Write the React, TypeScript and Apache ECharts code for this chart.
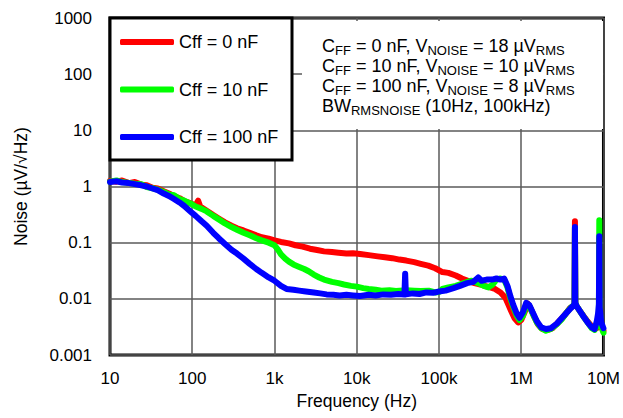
import React, { useEffect, useRef } from "react";
import * as echarts from "echarts";

const xTickLabels = ["10", "100", "1k", "10k", "100k", "1M", "10M"];
const yTickLabels = ["0.001", "0.01", "0.1", "1", "10", "100", "1000"];
const seriesNames = ["Cff = 0 nF", "Cff = 10 nF", "Cff = 100 nF"];
const seriesColors = ["#ff0000", "#00ff00", "#0000ff"];

const redFreq = [10, 12, 14, 17, 20, 24, 28, 33, 38, 45, 52, 60, 70, 80, 95, 110, 118, 125, 150, 180, 210, 250, 300, 350, 420, 500, 600, 700, 850, 1000, 1200, 1500, 1800, 2200, 2700, 3300, 4000, 5000, 6000, 7500, 9000, 11000, 14000, 18000, 22000, 27000, 33000, 40000, 50000, 60000, 74000, 90000, 110000, 130000, 160000, 190000, 225000, 270000, 320000, 360000, 420000, 480000, 560000, 640000, 700000, 750000, 830000, 920000, 1000000, 1100000, 1200000, 1300000, 1450000, 1600000, 1800000, 2100000, 2400000, 2700000, 3000000, 3400000, 3900000, 4300000, 4450000, 4500000, 4550000, 4700000, 5200000, 5800000, 6300000, 7000000, 7700000, 8300000, 8700000, 8850000, 8900000, 8950000, 9400000, 9700000, 10000000];
const redVal = [1.25, 1.22, 1.28, 1.15, 1.2, 1.08, 1.05, 0.95, 0.92, 0.82, 0.75, 0.68, 0.62, 0.55, 0.5, 0.46, 0.56, 0.44, 0.37, 0.31, 0.27, 0.23, 0.2, 0.18, 0.165, 0.15, 0.135, 0.125, 0.118, 0.11, 0.103, 0.097, 0.09, 0.085, 0.078, 0.074, 0.07, 0.068, 0.066, 0.064, 0.065, 0.063, 0.06, 0.057, 0.055, 0.053, 0.05, 0.048, 0.045, 0.042, 0.039, 0.035, 0.03, 0.029, 0.026, 0.023, 0.021, 0.019, 0.018, 0.017, 0.016, 0.015, 0.013, 0.0105, 0.0078, 0.0062, 0.0045, 0.0038, 0.0042, 0.0058, 0.0082, 0.0068, 0.0047, 0.0035, 0.0029, 0.0028, 0.003, 0.0036, 0.0042, 0.0052, 0.0068, 0.0075, 0.008, 0.24, 0.008, 0.0075, 0.006, 0.0048, 0.0041, 0.0034, 0.0029, 0.003, 0.004, 0.006, 0.12, 0.006, 0.0032, 0.003, 0.0027];

const greenFreq = [10, 12, 14, 17, 20, 24, 28, 33, 38, 45, 52, 60, 70, 80, 95, 110, 130, 150, 180, 210, 250, 300, 350, 420, 500, 600, 700, 850, 1000, 1100, 1200, 1350, 1500, 1700, 2000, 2300, 2600, 3000, 3500, 4000, 5000, 6000, 7000, 8500, 10000, 12000, 14000, 17000, 20000, 25000, 30000, 40000, 50000, 60000, 75000, 90000, 100000, 110000, 130000, 160000, 200000, 250000, 300000, 350000, 400000, 450000, 500000, 560000, 620000, 680000, 740000, 800000, 880000, 950000, 1050000, 1150000, 1250000, 1400000, 1550000, 1750000, 2000000, 2300000, 2700000, 3100000, 3500000, 4000000, 4400000, 4450000, 4500000, 4550000, 4700000, 5200000, 5800000, 6500000, 7200000, 7800000, 8400000, 8800000, 8900000, 9000000, 9500000, 10000000];
const greenVal = [1.22, 1.28, 1.2, 1.16, 1.12, 1.1, 0.98, 0.93, 0.88, 0.8, 0.72, 0.7, 0.6, 0.56, 0.5, 0.44, 0.4, 0.36, 0.3, 0.26, 0.22, 0.19, 0.17, 0.15, 0.135, 0.12, 0.11, 0.1, 0.09, 0.075, 0.062, 0.052, 0.046, 0.041, 0.037, 0.034, 0.031, 0.027, 0.024, 0.022, 0.02, 0.019, 0.018, 0.017, 0.0165, 0.0155, 0.015, 0.0145, 0.014, 0.0142, 0.0138, 0.0142, 0.014, 0.0138, 0.014, 0.013, 0.0132, 0.015, 0.016, 0.017, 0.019, 0.021, 0.019, 0.017, 0.016, 0.018, 0.022, 0.023, 0.022, 0.016, 0.01, 0.0072, 0.005, 0.0042, 0.005, 0.0078, 0.0075, 0.0052, 0.0038, 0.003, 0.0027, 0.0029, 0.0035, 0.0043, 0.0055, 0.007, 0.0078, 0.0085, 0.18, 0.0085, 0.0075, 0.006, 0.0047, 0.0037, 0.003, 0.0028, 0.0035, 0.006, 0.25, 0.006, 0.003, 0.0025];

const blueFreq = [10, 12, 14, 17, 20, 24, 28, 33, 38, 45, 52, 60, 70, 80, 95, 110, 130, 150, 180, 210, 250, 300, 350, 420, 500, 600, 700, 850, 1000, 1200, 1400, 1700, 2000, 2400, 3000, 3600, 4300, 5200, 6200, 7500, 9000, 11000, 14000, 17000, 21000, 26000, 32000, 38000, 38800, 39600, 48000, 58000, 70000, 85000, 100000, 120000, 150000, 180000, 220000, 260000, 300000, 330000, 380000, 440000, 500000, 560000, 620000, 680000, 740000, 800000, 880000, 950000, 1050000, 1150000, 1250000, 1400000, 1550000, 1750000, 2000000, 2300000, 2700000, 3100000, 3500000, 4000000, 4400000, 4450000, 4500000, 4550000, 4700000, 5200000, 5800000, 6500000, 7200000, 7800000, 8300000, 8600000, 8800000, 8900000, 9000000, 9400000, 10000000];
const blueVal = [1.2, 1.24, 1.18, 1.15, 1.1, 1.05, 1.0, 0.92, 0.86, 0.75, 0.68, 0.6, 0.52, 0.45, 0.36, 0.3, 0.24, 0.2, 0.15, 0.12, 0.095, 0.075, 0.064, 0.052, 0.042, 0.034, 0.029, 0.024, 0.021, 0.017, 0.015, 0.0145, 0.014, 0.0135, 0.013, 0.0125, 0.012, 0.0118, 0.0115, 0.0118, 0.0115, 0.0112, 0.0118, 0.0115, 0.012, 0.0118, 0.0122, 0.012, 0.028, 0.012, 0.0125, 0.0122, 0.013, 0.0128, 0.0135, 0.014, 0.0155, 0.017, 0.019, 0.02, 0.024, 0.021, 0.022, 0.022, 0.023, 0.022, 0.023, 0.017, 0.011, 0.0078, 0.0055, 0.0046, 0.0058, 0.0085, 0.0078, 0.0055, 0.004, 0.0031, 0.0029, 0.003, 0.0036, 0.0045, 0.0055, 0.0068, 0.0078, 0.0085, 0.19, 0.0085, 0.0075, 0.006, 0.0047, 0.0037, 0.0031, 0.0029, 0.004, 0.0055, 0.008, 0.13, 0.007, 0.0038, 0.003];

const FONT = "'Liberation Sans', Arial, sans-serif";

function pairs(f: number[], v: number[]) {
  return f.map((x, i) => [x, v[i]]);
}

export default function App() {
  const ref = useRef<HTMLDivElement>(null);
  useEffect(() => {
    document.body.style.margin = "0";
    const chart = echarts.init(ref.current!, null, { renderer: "svg" });
    const freqs = [redFreq, greenFreq, blueFreq];
    const vals = [redVal, greenVal, blueVal];
    const m = (t: string) => `{m|${t}}`;
    const s = (t: string) => `{s|${t}}`;
    const boxText = [
      m("C") + s("FF") + m(" = 0 nF, V") + s("NOISE") + m(" = 18 µV") + s("RMS"),
      m("C") + s("FF") + m(" = 10 nF, V") + s("NOISE") + m(" = 10 µV") + s("RMS"),
      m("C") + s("FF") + m(" = 100 nF, V") + s("NOISE") + m(" = 8 µV") + s("RMS"),
      m("BW") + s("RMSNOISE") + m(" (10Hz, 100kHz)"),
    ].join("\n");
    chart.setOption({
      animation: false,
      backgroundColor: "#fff",
      textStyle: { fontFamily: FONT },
      grid: {
        left: 110,
        top: 18,
        right: 17,
        bottom: 63,
        show: true,
        borderColor: "#000",
        borderWidth: 3,
        backgroundColor: "#fff",
      },
      legend: {
        data: seriesNames,
        orient: "vertical",
        left: 115,
        top: 27,
        itemWidth: 54,
        itemHeight: 6,
        itemGap: 27.5,
        icon: "roundRect",
        selectedMode: false,
        textStyle: { fontFamily: FONT, fontSize: 18, color: "#000", lineHeight: 20 },
        z: 10,
      },
      xAxis: {
        type: "log",
        logBase: 10,
        min: 10,
        max: 1e7,
        splitNumber: 6,
        name: "Frequency (Hz)",
        nameLocation: "middle",
        nameGap: 34,
        nameTextStyle: { fontFamily: FONT, fontSize: 17.5, color: "#000" },
        axisLine: { show: false },
        axisTick: { show: false },
        axisLabel: {
          margin: 15,
          fontFamily: FONT,
          fontSize: 17,
          color: "#000",
          formatter: (v: number) => xTickLabels[Math.round(Math.log10(v)) - 1] ?? "",
        },
        splitLine: { show: true, lineStyle: { color: "#5a5a5a", width: 1.5 } },
        minorTick: { show: false },
      },
      yAxis: {
        type: "log",
        logBase: 10,
        min: 0.001,
        max: 1000,
        splitNumber: 6,
        name: "Noise (µV/√Hz)",
        nameLocation: "middle",
        nameGap: 80,
        nameRotate: 90,
        nameTextStyle: { fontFamily: FONT, fontSize: 17.5, color: "#000" },
        axisLine: { show: false },
        axisTick: { show: false },
        axisLabel: {
          margin: 18,
          fontFamily: FONT,
          fontSize: 17,
          color: "#000",
          formatter: (v: number) => yTickLabels[Math.round(Math.log10(v)) + 3] ?? "",
        },
        splitLine: { show: true, lineStyle: { color: "#5a5a5a", width: 1.5 } },
      },
      graphic: [
        {
          type: "rect",
          z: 5,
          shape: { x: 110, y: 18, width: 182, height: 142 },
          style: { fill: "#fff", stroke: "#000", lineWidth: 3 },
        },
        {
          type: "rect",
          z: 5,
          shape: { x: 302, y: 21, width: 301, height: 108 },
          style: { fill: "#fff", stroke: null },
        },
        {
          type: "text",
          z: 6,
          x: 322,
          y: 36,
          style: {
            text: boxText,
            verticalAlign: "top",
            align: "left",
            fill: "#000",
            rich: {
              m: { fontFamily: FONT, fontSize: 18, lineHeight: 20, fill: "#000", color: "#000" },
              s: { fontFamily: FONT, fontSize: 13, lineHeight: 12, padding: [8, 0, 0, 0], fill: "#000", color: "#000" },
            },
          },
        },
      ],
      series: seriesNames.map((name, i) => ({
        name,
        type: "line",
        data: pairs(freqs[i], vals[i]),
        showSymbol: false,
        symbol: "none",
        color: seriesColors[i],
        lineStyle: { width: 6, color: seriesColors[i], cap: "round", join: "round" },
        z: 2 + i,
        clip: true,
      })),
    });
    return () => chart.dispose();
  }, []);
  return <div ref={ref} style={{ width: 623, height: 418 }} />;
}
